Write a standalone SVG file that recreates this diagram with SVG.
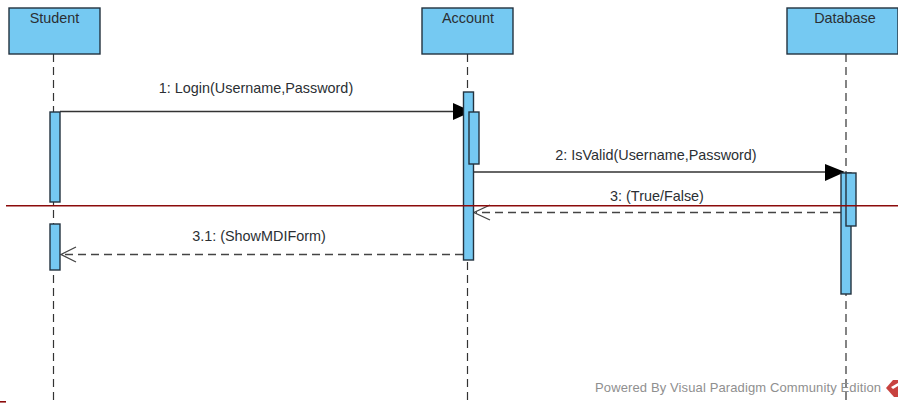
<svg xmlns="http://www.w3.org/2000/svg" width="898" height="407" viewBox="0 0 898 407">
<style>
text{font-family:"Liberation Sans",Arial,sans-serif;font-size:14.400px;fill:#2b2f33}
.box{fill:#75c9f2;stroke:#23323f;stroke-width:1.4}
.life{fill:none;stroke:#333;stroke-width:1.200;stroke-dasharray:8 5}
.sol{fill:none;stroke:#333;stroke-width:1.300}
.dash{fill:none;stroke:#444;stroke-width:1.300;stroke-dasharray:8 5}
.open{fill:none;stroke:#444;stroke-width:1.300}
.head{fill:#000}
.red{fill:none;stroke:#8b0b0b;stroke-width:1.600}
</style>
<rect width="898" height="407" fill="#fff"/>
<g id="connectors">
<path class="life" d="M53.500 54V405"/>
<path class="life" d="M467.500 54V405"/>
<path class="life" d="M846 54V405"/>
<path class="sol" d="M60 111.500H454"/>
<path class="head" d="M453 103L472 111.500L453 120Z"/>
<path class="sol" d="M474 172H826"/>
<path class="head" d="M825 164L845 172L825 181Z"/>
<path class="dash" d="M841 212.500H476"/>
<path class="open" d="M490 205L474 212.500L490 220"/>
<path class="dash" d="M463 254.500H63"/>
<path class="open" d="M76 247L61 254.500L76 262"/>
</g>
<g id="student">
<rect class="box" x="9" y="8" width="91" height="46"/>
<text x="54.500" y="23" text-anchor="middle">Student</text>
<rect class="box" x="50" y="112" width="10" height="90"/>
<rect class="box" x="50" y="224" width="10" height="46"/>
</g>
<g id="account">
<rect class="box" x="422" y="8" width="91" height="46"/>
<text x="468" y="23" text-anchor="middle">Account</text>
<rect class="box" x="463.500" y="92" width="10" height="168"/>
<rect class="box" x="469" y="112" width="10" height="52"/>
</g>
<g id="database">
<rect class="box" x="787" y="8" width="111" height="46"/>
<text x="845" y="23" text-anchor="middle">Database</text>
<rect class="box" x="841" y="173" width="10" height="121"/>
<rect class="box" x="846" y="173" width="10" height="53"/>
</g>
<g id="labels">
<text x="256" y="93" text-anchor="middle">1: Login(Username,Password)</text>
<text x="656" y="160" text-anchor="middle">2: IsValid(Username,Password)</text>
<text x="657" y="201" text-anchor="middle">3: (True/False)</text>
<text x="259" y="241" text-anchor="middle">3.1: (ShowMDIForm)</text>
</g>
<g id="overlay">
<path class="red" d="M6 205.800H898"/>
<path class="red" d="M0 401.800H6"/>
</g>
<g id="watermark">
<text x="595" y="392" textLength="286" style="font-size:13px;fill:#8f8f8f">Powered By Visual Paradigm Community Edition</text>
<path d="M886 388L893 380L898 380V397L894 397Z" fill="#c8423f"/>
<path d="M891 387L898 383V386L893 389Z" fill="#fff"/>
</g>
</svg>
